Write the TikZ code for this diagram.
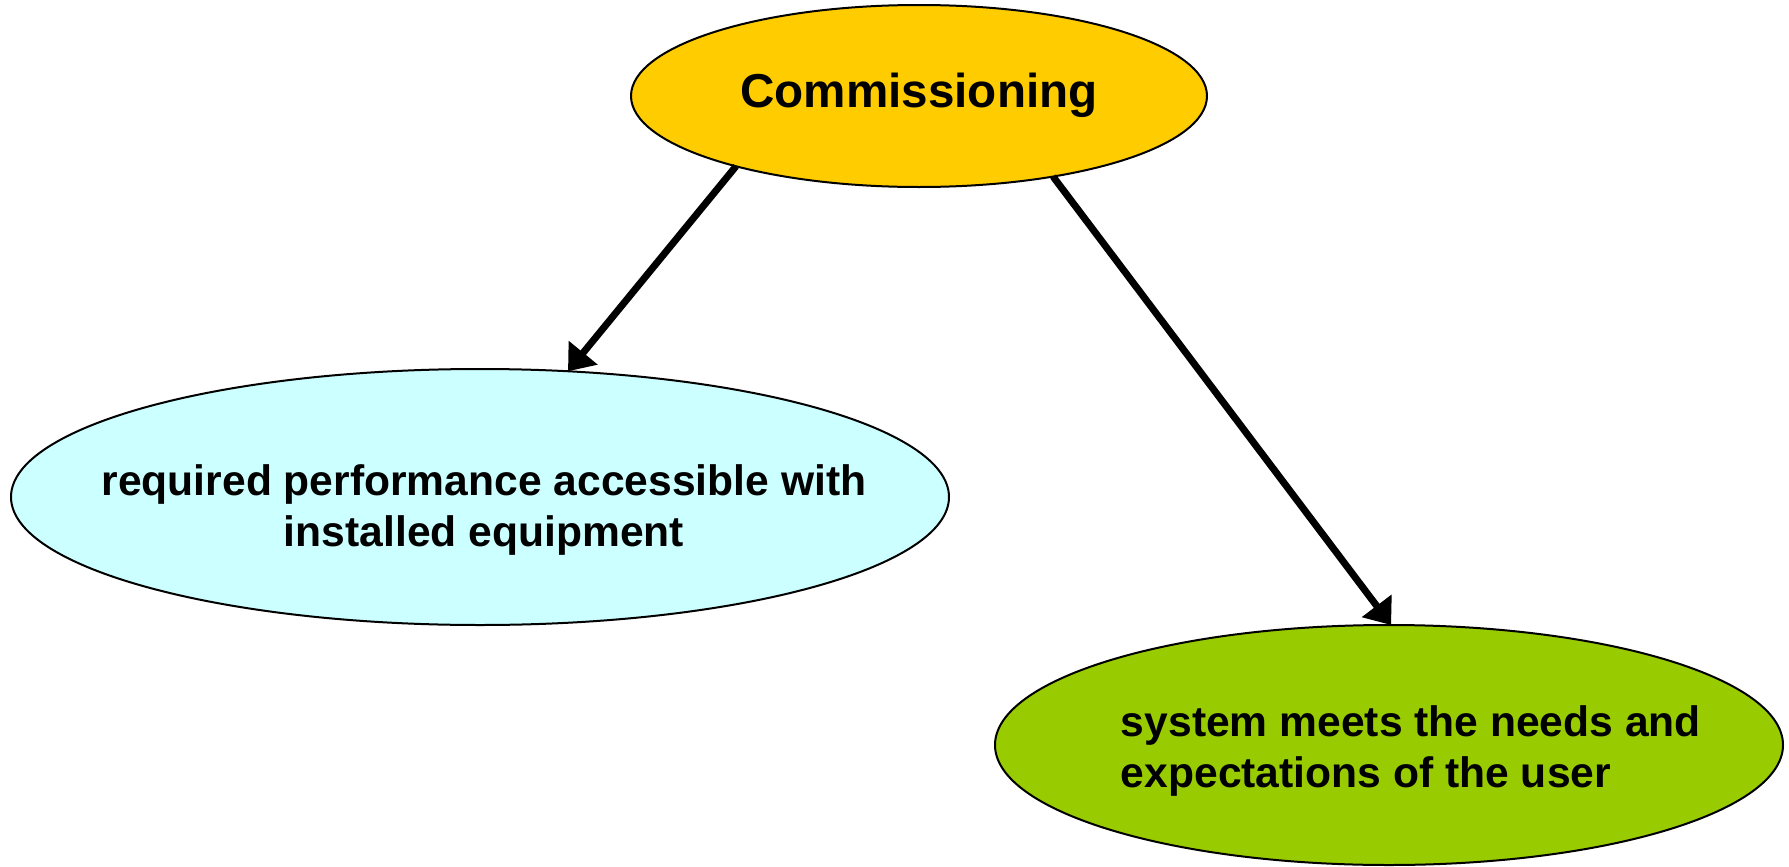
\documentclass[tikz,border=0pt]{standalone}
\usepackage{fontspec}
\setmainfont{Liberation Sans}
\usetikzlibrary{arrows.meta, shapes.geometric}
\definecolor{commyellow}{HTML}{FFCC00}
\definecolor{reqcyan}{HTML}{CCFFFF}
\definecolor{usergreen}{HTML}{99CC00}

\begin{document}
\begin{tikzpicture}[x=0.5pt, y=-0.5pt,
  bubble/.style={ellipse, draw, line width=1pt, inner sep=0pt, outer sep=0pt},
  txt/.style={font=\bfseries\fontsize{21.3}{25.8}\selectfont, align=center},
  link/.style={-{Triangle[length=12pt, width=18pt]}, line width=3.5pt}]
  \useasboundingbox (0,0) rectangle (1789,867);
  % the three bubbles
  \node[bubble, fill=commyellow, minimum width=288pt, minimum height=91pt,
    label={[txt, font=\bfseries\fontsize{23.8}{28}\selectfont, yshift=0.5pt]center:Commissioning}]
    (comm) at (919,96) {};
  \node[bubble, fill=reqcyan, minimum width=469pt, minimum height=128pt,
    label={[txt, xshift=2pt, yshift=-6.5pt]center:{required performance accessible with\\installed equipment}}]
    (req) at (480,497) {};
  \node[bubble, fill=usergreen, minimum width=394pt, minimum height=120pt,
    label={[txt, align=left, xshift=11pt, yshift=-3pt]center:{system meets the needs and\\expectations of the user}}]
    (user) at (1389,745) {};
  % links
  \draw[link] (comm.201) -- (req.55);
  \draw[link] (comm.-31) -- (user.89.5);
\end{tikzpicture}
\end{document}
